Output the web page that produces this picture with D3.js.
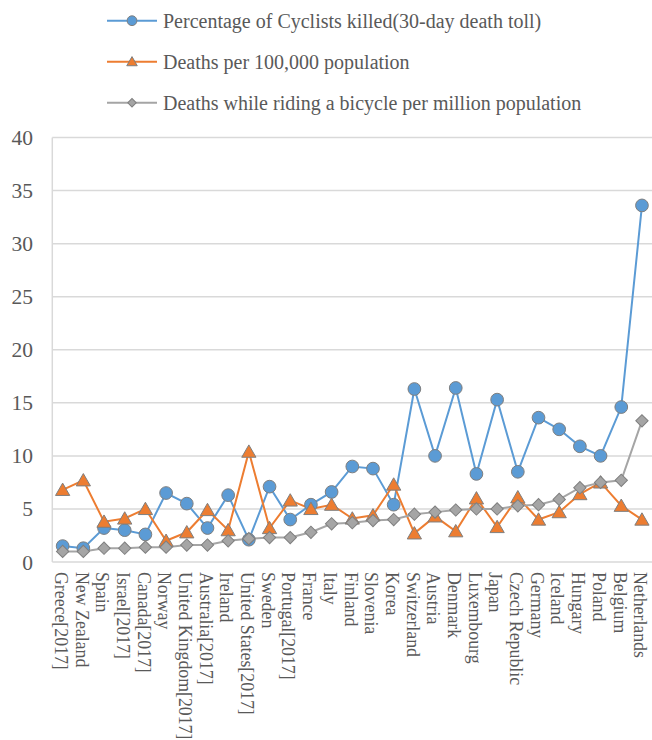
<!DOCTYPE html>
<html><head><meta charset="utf-8">
<script src="https://cdn.jsdelivr.net/npm/d3@7"></script>
<style>body{margin:0;background:#fff}svg{display:block}</style>
</head><body>
<svg id="c" width="652" height="740"></svg>
<script>
const categories = ["Greece[2017]","New Zealand","Spain","Israel[2017]","Canada[2017]","Norway","United Kingdom[2017]","Australia[2017]","Ireland","United States[2017]","Sweden","Portugal[2017]","France","Italy","Finland","Slovenia","Korea","Switzerland","Austria","Denmark","Luxembourg","Japan","Czech Republic","Germany","Iceland","Hungary","Poland","Belgium","Netherlands"];
const pctKilled = [1.5,1.3,3.2,3.0,2.6,6.5,5.5,3.2,6.3,2.1,7.1,4.0,5.4,6.6,9.0,8.8,5.4,16.3,10.0,16.4,8.3,15.3,8.5,13.6,12.5,10.9,10.0,14.6,33.6];
const deathsPer100k = [6.8,7.7,3.8,4.1,5.0,2.0,2.8,4.9,3.0,10.4,3.2,5.8,5.0,5.4,4.1,4.4,7.3,2.7,4.3,2.9,6.0,3.3,6.1,4.0,4.7,6.4,7.5,5.3,4.0];
const deathsPerMillion = [1.0,1.0,1.3,1.3,1.4,1.4,1.6,1.6,2.0,2.2,2.3,2.3,2.8,3.6,3.7,3.9,4.0,4.5,4.7,4.9,5.0,5.0,5.3,5.4,5.9,7.0,7.5,7.7,13.3];
const seriesNames = ["Percentage of Cyclists killed(30-day death toll)","Deaths per 100,000 population","Deaths while riding a bicycle per million population"];
const yTicks = [0,5,10,15,20,25,30,35,40];

const colors = ["#5b9bd5","#ed7d31","#a5a5a5"];
const series = [pctKilled,deathsPer100k,deathsPerMillion];
const font = "Liberation Serif";
const txt = "#595959";

const svg = d3.select("#c");
const x = d3.scaleBand().domain(categories).range([52.3,652.3]);
const y = d3.scaleLinear().domain([0,40]).range([562,137.5]);
const cx = d => x(d)+x.bandwidth()/2;

function marker(i, big){
  if(i===0) return d3.symbol().type(d3.symbolCircle).size(big?127:75)();
  if(i===1) return d3.symbol().type(d3.symbolTriangle).size(big?88:48)();
  return d3.symbol().type(d3.symbolSquare).size(big?76:36)();
}

// gridlines
svg.append("g").selectAll("line").data(yTicks).join("line")
  .attr("x1",52.3).attr("x2",652).attr("y1",d=>y(d)).attr("y2",d=>y(d))
  .attr("stroke","#d9d9d9").attr("stroke-width",1.5);
svg.append("line").attr("x1",52.3).attr("x2",52.3).attr("y1",y(40)).attr("y2",y(0))
  .attr("stroke","#d9d9d9").attr("stroke-width",1.5);

// y labels
svg.append("g").selectAll("text").data(yTicks).join("text")
  .attr("x",33).attr("y",d=>y(d)).attr("dy","0.35em").attr("text-anchor","end")
  .attr("font-family",font).attr("font-size",21.5).attr("fill",txt).text(d=>d);

// x labels
svg.append("g").selectAll("text").data(categories).join("text")
  .attr("transform",d=>`translate(${cx(d)-1.5},572) rotate(90)`)
  .attr("dy","0.35em").attr("font-family",font).attr("font-size",17.8).attr("fill",txt).text(d=>d);

// series
series.forEach((vals,i)=>{
  const line = d3.line().x((v,j)=>cx(categories[j])).y(v=>y(v));
  svg.append("path").datum(vals).attr("d",line).attr("fill","none")
    .attr("stroke",colors[i]).attr("stroke-width",2);
});
series.forEach((vals,i)=>{
  svg.append("g").selectAll("path").data(vals).join("path")
    .attr("transform",(v,j)=>`translate(${cx(categories[j])},${y(v) + (i===1?1.5:0)})` + (i===2?" rotate(45)":""))
    .attr("d",marker(i,true)).attr("fill",colors[i]).attr("stroke","#7f7f7f").attr("stroke-width",1);
});

// legend
const legY = [20.7,61.7,102.7];
seriesNames.forEach((n,i)=>{
  const g = svg.append("g");
  g.append("line").attr("x1",107).attr("x2",157).attr("y1",legY[i]).attr("y2",legY[i])
    .attr("stroke",colors[i]).attr("stroke-width",2);
  g.append("path").attr("transform",`translate(132,${legY[i]+(i===1?1:0)})` + (i===2?" rotate(45)":""))
    .attr("d",marker(i,false))
    .attr("fill",colors[i]).attr("stroke","#7f7f7f").attr("stroke-width",1);
  g.append("text").attr("x",163).attr("y",legY[i]).attr("dy","0.35em")
    .attr("font-family",font).attr("font-size",20).attr("fill",txt).text(n);
});
</script>
</body></html>
